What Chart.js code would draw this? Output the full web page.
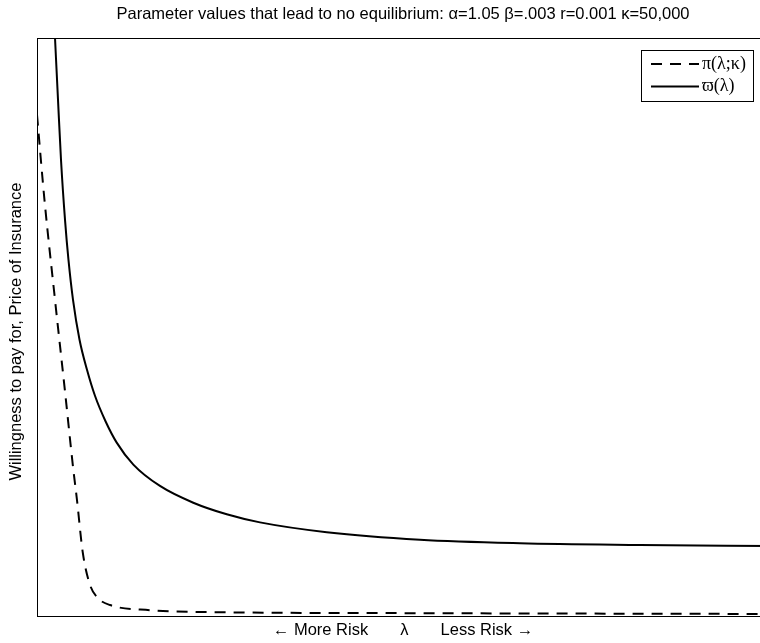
<!DOCTYPE html>
<html>
<head>
<meta charset="utf-8">
<script src="https://cdn.jsdelivr.net/npm/chart.js@4"></script>
<style>
  html, body { margin: 0; padding: 0; background: #fff; overflow: hidden; }
  #wrap { position: absolute; left: 0; top: 0; width: 806px; height: 643px; }
</style>
</head>
<body>
<div id="wrap"><canvas id="chart"></canvas></div>
<script>
// lambda positions (0 = most risk, 100 = least risk) and curve heights
const piLambda = [0, 1.02, 2.46, 3.83, 4.92, 5.46, 6.24, 7.24, 8.33, 9.97, 15.44, 22.27, 49.59, 100];
const piValues = [86.7, 72.0, 54.7, 38.8, 25.8, 20.1, 11.1, 5.4, 3.1, 1.9, 1.0, 0.7, 0.5, 0.35];

const wLambda = [2.46, 2.87, 3.28, 3.83, 4.30, 4.92, 5.81, 6.83, 7.92, 9.36, 10.89, 13.16, 16.8, 21.35, 25.92, 30.46, 39.58, 52.32, 65.98, 82.38, 100];
const wValues = [100, 89.3, 78.9, 68.5, 61.6, 54.7, 47.8, 42.6, 38.1, 33.7, 30.0, 26.2, 22.5, 19.6, 17.6, 16.2, 14.5, 13.2, 12.6, 12.3, 12.1];

const seriesLabels = ['\u03c0(\u03bb;\u03ba)', '\u03d6(\u03bb)'];

const sans = '"Liberation Sans", Arial, sans-serif';

const toPoints = (xs, ys) => xs.map((x, i) => ({x: x, y: ys[i]}));

// box round the plot area
const frame = {
    id: 'frame',
    afterDraw(chart) {
        const a = chart.chartArea;
        const ctx = chart.ctx;
        ctx.save();
        ctx.strokeStyle = '#000';
        ctx.lineWidth = 1;
        ctx.strokeRect(Math.round(a.left) + 0.5, Math.round(a.top) + 0.5,
            Math.round(a.right - a.left), Math.round(a.bottom - a.top));
        ctx.restore();
    }
};

// boxed legend in the top right corner
const boxLegend = {
    id: 'boxLegend',
    afterDraw(chart) {
        const ctx = chart.ctx;
        const x0 = 641.5, y0 = 50.5, w = 112, h = 51;
        ctx.save();
        ctx.fillStyle = '#fff';
        ctx.fillRect(x0, y0, w, h);
        ctx.strokeStyle = '#000';
        ctx.lineWidth = 1;
        ctx.strokeRect(x0, y0, w, h);
        chart.data.datasets.forEach((ds, i) => {
            const y = 64 + i * 22.5;
            ctx.beginPath();
            ctx.lineWidth = 2;
            ctx.setLineDash(ds.borderDash || []);
            ctx.moveTo(651, y);
            ctx.lineTo(699, y);
            ctx.stroke();
            ctx.setLineDash([]);
            ctx.fillStyle = '#000';
            ctx.font = '18px "Liberation Serif"';
            ctx.textBaseline = 'middle';
            ctx.fillText(ds.label, 702, y);
        });
        ctx.restore();
    }
};

new Chart(document.getElementById('chart'), {
    type: 'line',
    data: {
        datasets: [{
            label: seriesLabels[0],
            data: toPoints(piLambda, piValues),
            borderColor: '#000',
            borderWidth: 2,
            borderDash: [11, 8],
            pointRadius: 0,
            cubicInterpolationMode: 'monotone',
            fill: false
        }, {
            label: seriesLabels[1],
            data: toPoints(wLambda, wValues),
            borderColor: '#000',
            borderWidth: 2,
            pointRadius: 0,
            cubicInterpolationMode: 'monotone',
            fill: false
        }]
    },
    options: {
        responsive: true,
        maintainAspectRatio: false,
        animation: false,
        layout: {padding: 0},
        plugins: {
            legend: {display: false},
            tooltip: {enabled: false},
            title: {
                display: true,
                text: 'Parameter values that lead to no equilibrium: \u03b1=1.05 \u03b2=.003 r=0.001 \u03ba=50,000',
                color: '#000',
                font: {family: sans, size: 16.5, weight: 'normal'},
                padding: {top: 5, bottom: 13.2}
            }
        },
        scales: {
            x: {
                type: 'linear',
                min: 0,
                max: 100,
                grid: {display: false, drawTicks: false},
                border: {display: false},
                ticks: {display: false},
                title: {
                    display: true,
                    text: '\u2190 More Risk\u00a0\u00a0\u00a0\u00a0\u00a0\u00a0\u00a0\u03bb\u00a0\u00a0\u00a0\u00a0\u00a0\u00a0\u00a0Less Risk \u2192',
                    color: '#000',
                    font: {family: sans, size: 16.5},
                    padding: {top: 4.1, bottom: 3.1}
                }
            },
            y: {
                min: 0,
                max: 100,
                grid: {display: false, drawTicks: false},
                border: {display: false},
                ticks: {display: false},
                title: {
                    display: true,
                    text: 'Willingness to pay for, Price of Insurance\u00a0\u00a0',
                    color: '#000',
                    font: {family: sans, size: 16.5},
                    padding: {top: 6.6, bottom: 10.6}
                }
            },
            // empty right axis, only keeps the plot short of the page edge
            yRight: {
                position: 'right',
                display: true,
                grid: {display: false, drawTicks: false},
                border: {display: false},
                ticks: {display: false},
                afterFit: scale => { scale.width = 37; }
            }
        }
    },
    plugins: [frame, boxLegend]
});
</script>
</body>
</html>
